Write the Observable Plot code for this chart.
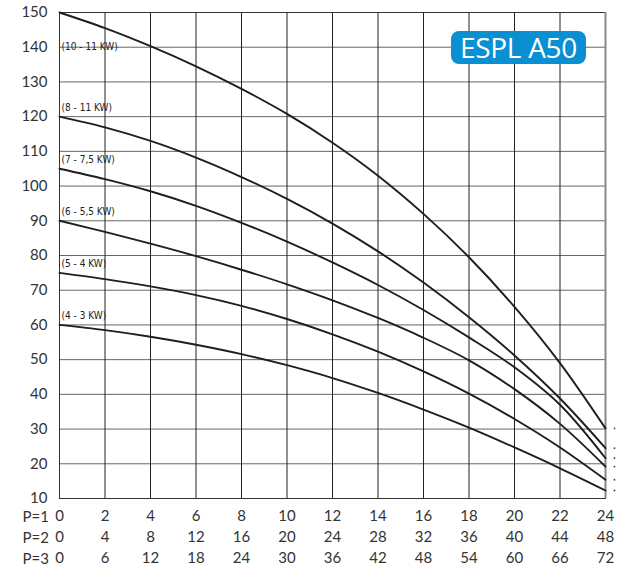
<!DOCTYPE html>
<html>
<head>
<meta charset="utf-8">
<script src="https://cdn.jsdelivr.net/npm/d3@7"></script>
<script src="https://cdn.jsdelivr.net/npm/@observablehq/plot@0.6"></script>
<style>
  html, body { margin: 0; padding: 0; background: #fff; }
  #wrap { position: relative; width: 617px; height: 570px; }
  #wrap svg { display: block; }
  #badge {
    position: absolute; left: 451px; top: 31px; width: 135px; height: 33px;
    background: #0a8fd2; border-radius: 8px; color: #fff;
    font-family: "Open Sans", sans-serif; font-size: 28px; line-height: 33px;
    text-align: center; letter-spacing: -0.3px;
  }
</style>
</head>
<body>
<div id="wrap"><div id="badge">ESPL A50</div></div>
<script>
// Flow ticks (P=1 row); P=2 and P=3 rows are multiples
const flowP1 = [0, 2, 4, 6, 8, 10, 12, 14, 16, 18, 20, 22, 24];
const rowLabels = ["P=1", "P=2", "P=3"];
const rowFactors = [1, 2, 3];
const yTicks = [10, 20, 30, 40, 50, 60, 70, 80, 90, 100, 110, 120, 130, 140, 150];

// Head curves, one value per flow tick
const seriesNames = ["(10 - 11 KW)", "(8 - 11 KW)", "(7 - 7,5 KW)", "(6 - 5,5 KW)", "(5 - 4 KW)", "(4 - 3 KW)"];
const head10_11 = [150, 145.5, 140.3, 134.5, 128, 120.8, 112.5, 103, 92, 79.5, 65.2, 49, 30.2];
const head8_11  = [120, 116.9, 113, 108.2, 102.6, 96.3, 89.2, 81.2, 72.2, 62.2, 51.2, 38.8, 24.5];
const head7_75  = [105, 102, 98.5, 94.3, 89.4, 84, 78, 71.5, 64.3, 56.4, 47.8, 37, 21.6];
const head6_55  = [90, 86.8, 83.4, 79.8, 75.9, 71.7, 67.1, 62, 56.3, 49.8, 41.5, 31.5, 19.2];
const head5_4   = [75, 73.2, 71.1, 68.6, 65.5, 61.7, 57.3, 52.3, 46.6, 40.2, 32.9, 24.7, 15.4];
const head4_3   = [60, 58.5, 56.6, 54.3, 51.6, 48.4, 44.7, 40.4, 35.6, 30.4, 24.7, 18.7, 12.3];
const allSeries = [head10_11, head8_11, head7_75, head6_55, head5_4, head4_3];

const rows = [];
allSeries.forEach((s, i) => s.forEach((v, j) => rows.push({name: seriesNames[i], x: flowP1[j], y: v})));
const labels = seriesNames.map((n, i) => ({name: n, x: 0, y: i === 0 ? allSeries[i][0] - 10 : allSeries[i][0] + 2.6}));
const ends = allSeries.map((s, i) => ({name: seriesNames[i], x: flowP1[flowP1.length - 1], y: s[s.length - 1]}));

const font = "Lato, 'DejaVu Sans', sans-serif";

const chart = Plot.plot({
  width: 617,
  height: 570,
  marginLeft: 59,
  marginRight: 12,
  marginTop: 12,
  marginBottom: 72,
  style: {fontFamily: font, fontSize: "15px", color: "#333", background: "#fff"},
  x: {domain: [0, 24], label: null},
  y: {domain: [10, 150], label: null},
  marks: [
    Plot.gridY(yTicks.slice(1, -1), {stroke: "#666", strokeOpacity: 1, strokeWidth: 1}),
    Plot.gridX(flowP1.slice(1, -1), {stroke: "#222", strokeOpacity: 1, strokeWidth: 1}),
    Plot.frame({stroke: "#333", strokeWidth: 1}),
    Plot.ruleX([24], {stroke: "#888", strokeWidth: 2}),
    Plot.line(rows, {x: "x", y: "y", z: "name", curve: "catmull-rom", stroke: "#1e1e1e", strokeWidth: 1.9}),
    Plot.text(labels, {x: "x", y: "y", text: "name", textAnchor: "start", dx: 2, fontSize: 10, fill: "#222", fontFamily: "'Liberation Sans Narrow', 'DejaVu Sans Condensed', sans-serif"}),
    Plot.dot(ends, {x: "x", y: "y", dx: 9, r: 0.9, fill: "#444", stroke: null}),
    Plot.axisY({ticks: yTicks, tickSize: 0, tickPadding: 12, label: null, fontSize: 15}),
    ...rowFactors.map((f, i) => Plot.axisX({
      ticks: flowP1, tickSize: 0, tickPadding: 12 + 21 * i, label: null, fontSize: 15,
      tickFormat: d => String(d * f)
    })),
    ...rowLabels.map((lab, i) => Plot.text([lab], {
      text: d => d, frameAnchor: "bottom-left", lineAnchor: "middle", dx: -37,
      dy: 19 + 21 * i, fontSize: 15, fill: "#333"
    }))
  ]
});

document.getElementById("wrap").insertBefore(chart, document.getElementById("badge"));
</script>
</body>
</html>
